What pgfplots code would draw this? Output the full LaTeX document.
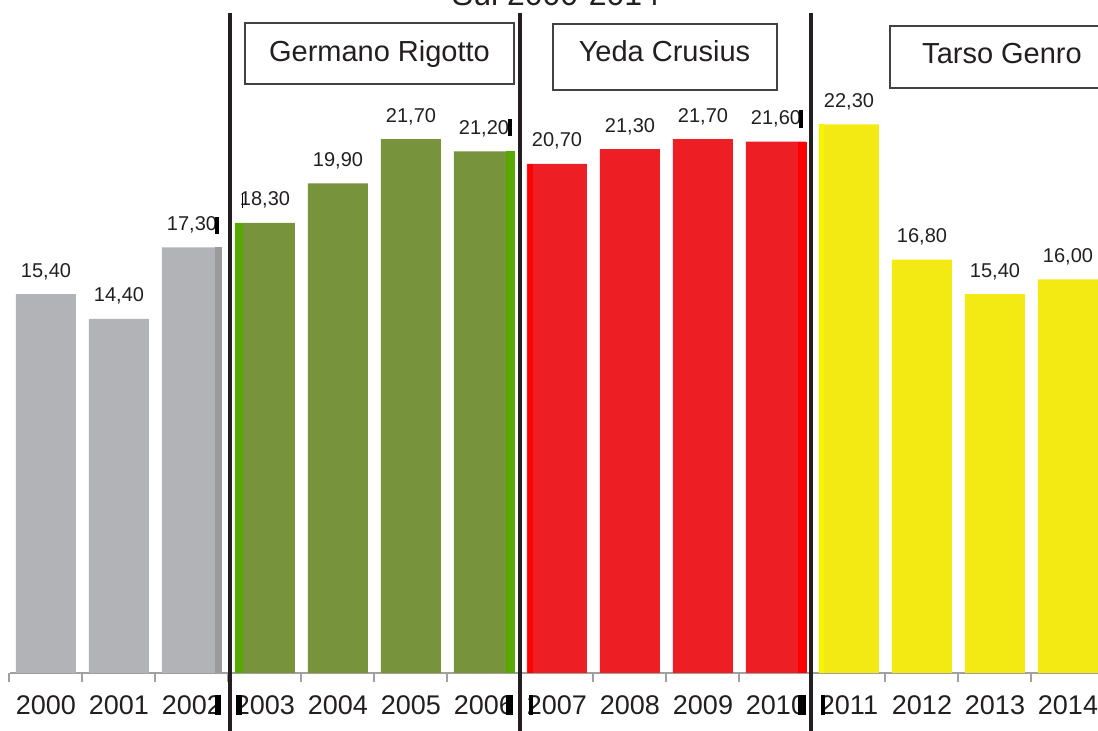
\documentclass[border=0pt]{standalone}
\usepackage{pgfplots}
\pgfplotsset{compat=1.18}
\usepackage{fontspec}
\setmainfont{Liberation Sans}

\definecolor{barGray}{HTML}{B2B3B7}
\definecolor{barGrayDk}{HTML}{9B9B9B}
\definecolor{barGreen}{HTML}{77933C}
\definecolor{barGreenLt}{HTML}{58A800}
\definecolor{barRed}{HTML}{ED1F24}
\definecolor{barRedLt}{HTML}{FF0000}
\definecolor{barYellow}{HTML}{F2EA12}
\definecolor{barYellowLt}{HTML}{F5F500}
\definecolor{ink}{HTML}{231F20}
\definecolor{axisGray}{HTML}{A0A0A0}

\pgfplotsset{
  govbar/.style={ybar, bar width=30pt, bar shift=0pt, draw=none, fill=#1,
    point meta=y,
    nodes near coords={\pgfmathprintnumber{\pgfplotspointmeta}},
    every node near coord/.append style={font=\fontsize{10}{12}\selectfont,
      text=ink, anchor=base, yshift=8.5pt}},
  edgebar/.style={ybar, draw=none, fill=#1},
}

\begin{document}
\begin{tikzpicture}
\useasboundingbox (0,-29pt) rectangle (549pt,336.5pt);
\clip (0,-29pt) rectangle (549pt,336.5pt);
\begin{axis}[
  at={(0,0)}, anchor=south west,
  scale only axis, x=36.5pt, y=12.3pt,
  xmin=-0.630, xmax=14.411, ymin=0, ymax=27.36,
  axis y line=none, axis x line=bottom,
  x axis line style={-, draw=axisGray, line width=1pt, shorten <=5pt},
  xtick={0,...,14},
  xticklabels={2000,2001,2002,2003,2004,2005,2006,2007,2008,2009,2010,2011,2012,2013,2014},
  major tick length=0pt,
  tick align=outside,
  extra x ticks={-0.5,0.5,...,13.5},
  extra x tick labels={},
  extra x tick style={major tick length=4.5pt,
    tick style={draw=axisGray, line width=1pt}},
  xticklabel style={font=\fontsize{13.5}{16}\selectfont, text=ink,
    anchor=base, yshift=-21pt},
  /pgf/number format/.cd, fixed, fixed zerofill, precision=2, use comma,
    assume math mode=true,
  /pgfplots/.cd,
  clip=false,
]
% before Rigotto
\addplot[govbar=barGray] coordinates {(0,15.4) (1,14.4) (2,17.3)};
% Germano Rigotto
\addplot[govbar=barGreen] coordinates {(3,18.3) (4,19.9) (5,21.7) (6,21.2)};
% Yeda Crusius
\addplot[govbar=barRed] coordinates {(7,20.7) (8,21.3) (9,21.7) (10,21.6)};
% Tarso Genro
\addplot[govbar=barYellow] coordinates {(11,22.3) (12,16.8) (13,15.4) (14,16.0)};

% thin shaded edges of the bars beside the dividers
\addplot[edgebar=barGrayDk, bar width=3.5pt, bar shift=13.25pt] coordinates {(2,17.3)};
\addplot[edgebar=barGreenLt, bar width=4pt, bar shift=-13pt] coordinates {(3,18.3)};
\addplot[edgebar=barGreenLt, bar width=4.5pt, bar shift=13.5pt] coordinates {(6,21.2)};
\addplot[edgebar=barRedLt, bar width=2.5pt, bar shift=-13.25pt] coordinates {(7,20.7)};
\addplot[edgebar=barRedLt, bar width=4.5pt, bar shift=13.25pt] coordinates {(10,21.6)};
\addplot[edgebar=barYellowLt, bar width=2.5pt, bar shift=-13.75pt] coordinates {(11,22.3)};
\end{axis}

% annotations, measured in half-point units from the top edge
\begin{scope}[x=0.5pt, y=-0.5pt, shift={(0pt,336.5pt)}]
  \node[anchor=base, font=\fontsize{16}{19}\selectfont, text=ink, inner sep=0pt]
    at (556,6) {Sul 2000-2014};
  % term dividers
  \foreach \xx in {230,520,811}
    \draw[ink, line width=2pt] (\xx,13) -- (\xx,760);
  % small dark cursor marks left beside the dividers
  \fill[black] (215,217) rectangle (218.5,234);
  \fill[black] (241.5,193) rectangle (242.5,208);
  \fill[black] (508,119) rectangle (512,136);
  \fill[black] (799,110) rectangle (803,128);
  \fill[black] (215,695) rectangle (221,715);
  \fill[black] (236,695) rectangle (242,715);
  \fill[black] (506,695) rectangle (513,715);
  \fill[black] (529,695) rectangle (533,715);
  \fill[black] (798,695) rectangle (806,715);
  \fill[black] (821,695) rectangle (825,715);
  % governor boxes
  \draw[ink!85, line width=1pt, fill=white] (245,23) rectangle (514,84);
  \node[anchor=base, font=\fontsize{14.5}{17}\selectfont, text=ink, inner sep=0pt]
    at (379.5,62) {Germano Rigotto};
  \draw[ink!85, line width=1pt, fill=white] (553,24) rectangle (777,90);
  \node[anchor=base, font=\fontsize{14.5}{17}\selectfont, text=ink, inner sep=0pt]
    at (664.5,62) {Yeda Crusius};
  \draw[ink!85, line width=1pt, fill=white] (890,26) rectangle (1120,88);
  \node[anchor=base, font=\fontsize{14.5}{17}\selectfont, text=ink, inner sep=0pt]
    at (1002,64) {Tarso Genro};
\end{scope}
\end{tikzpicture}
\end{document}
